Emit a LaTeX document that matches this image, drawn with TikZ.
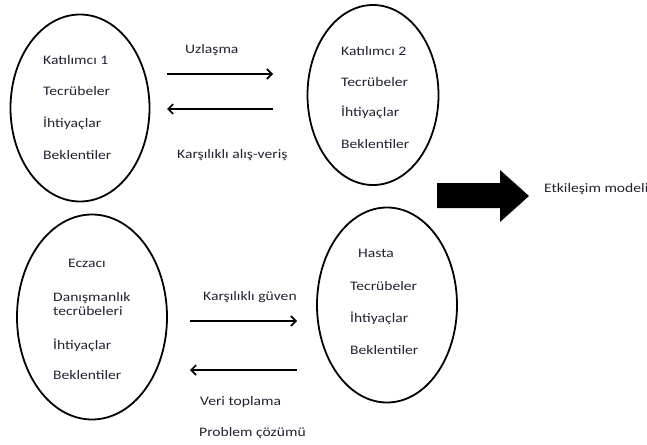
\documentclass[tikz,border=0pt]{standalone}
\usepackage{fontspec}
\setmainfont{Carlito}[FakeStretch=1.2]
\usetikzlibrary{shapes.geometric,arrows.meta}
\definecolor{txt}{HTML}{222233}
\tikzset{
  oval/.style={ellipse, draw=black, line width=1.8pt, inner sep=0pt},
  lbl/.style={anchor=west, inner sep=0pt, text=txt, font=\fontsize{13}{15}\selectfont},
  flow/.style={line width=1.8pt, -{Straight Barb[length=5pt,width=10pt,line width=1.6pt]}},
}
\begin{document}
\begin{tikzpicture}[x=1pt,y=-1pt]
\useasboundingbox (0,0) rectangle (647,444);
% ellipses
\node[oval, minimum width=139pt, minimum height=187pt] (e1) at (80,108) {};
\node[oval, minimum width=131pt, minimum height=180pt] (e2) at (373,95) {};
\node[oval, minimum width=150pt, minimum height=205pt] (e3) at (92,317) {};
\node[oval, minimum width=140pt, minimum height=195pt] (e4) at (387,305) {};
% ellipse 1 text
\node[lbl] (k1) at (43,60) {Katılımcı 1};
\node[lbl] (t1) at (43,91) {Tecrübeler};
\node[lbl] (i1) at (43,123) {İhtiyaçlar};
\node[lbl] (b1) at (43,155) {Beklentiler};
% ellipse 2 text
\node[lbl] (k2) at (341,51) {Katılımcı 2};
\node[lbl] (t2) at (341,82) {Tecrübeler};
\node[lbl] (i2) at (341,112) {İhtiyaçlar};
\node[lbl] (b2) at (341,144) {Beklentiler};
% ellipse 3 text
\node[lbl] (ec) at (68,263) {Eczacı};
\node[lbl, align=left] (dt) at (53,304) {Danışmanlık\\[-1pt]tecrübeleri};
\node[lbl] (i3) at (53,345) {İhtiyaçlar};
\node[lbl] (b3) at (53,375) {Beklentiler};
% ellipse 4 text
\node[lbl] (ha) at (358,253) {Hasta};
\node[lbl] (t4) at (350,286) {Tecrübeler};
\node[lbl] (i4) at (350,318) {İhtiyaçlar};
\node[lbl] (b4) at (350,350) {Beklentiler};
% top arrows
\coordinate (a1s) at (167,74); \coordinate (a1e) at (273,74);
\coordinate (a2s) at (273,109); \coordinate (a2e) at (167,109);
\draw[flow] (a1s) -- (a1e);
\draw[flow] (a2s) -- (a2e);
\node[lbl] (uz) at (185,50) {Uzlaşma};
\node[lbl] (ka) at (177,155) {Karşılıklı alış-veriş};
% bottom arrows
\coordinate (a3s) at (190,321); \coordinate (a3e) at (297,321);
\coordinate (a4s) at (297,370); \coordinate (a4e) at (190,370);
\draw[flow] (a3s) -- (a3e);
\draw[flow] (a4s) -- (a4e);
\node[lbl] (kg) at (203,297) {Karşılıklı güven};
\node[lbl] (vt) at (200,402) {Veri toplama};
\node[lbl] (pc) at (199,433) {Problem çözümü};
% big arrow
\fill[black] (437,183) -- (500,183) -- (500,170) -- (529,196) -- (500,222) -- (500,208) -- (437,208) -- cycle;
\node[lbl] (em) at (544,189) {Etkileşim modeli};
\end{tikzpicture}
\end{document}
